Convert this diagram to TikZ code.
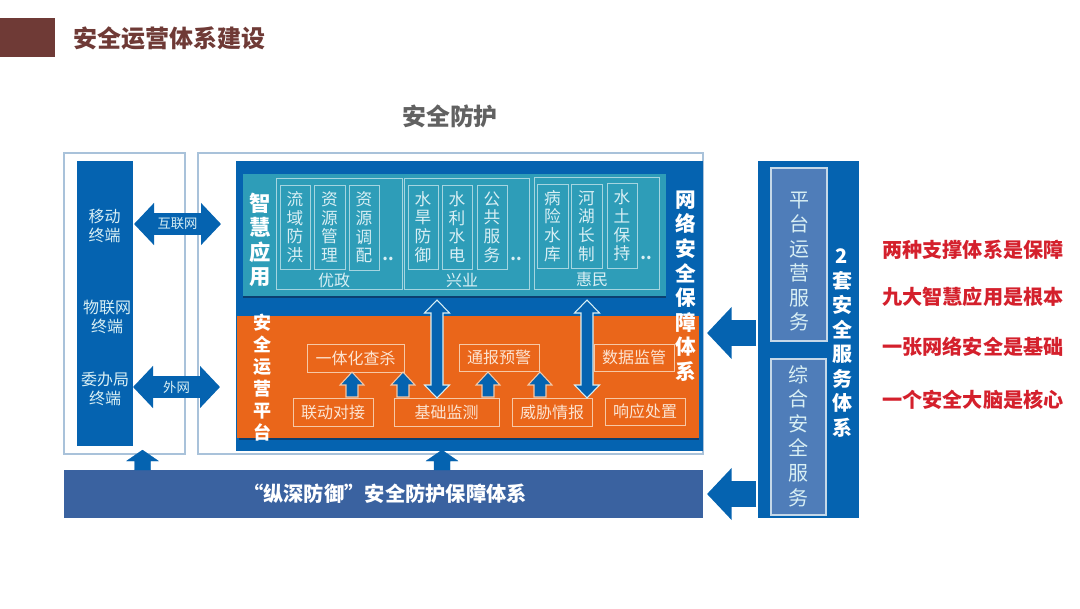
\documentclass[tikz,border=0pt]{standalone}
\usepackage{fontspec}
\setmainfont{Noto Sans CJK SC}
\usetikzlibrary{arrows.meta,calc}
\definecolor{mainblue}{HTML}{0563B0}
\definecolor{framec}{HTML}{A9C2DA}
\definecolor{tealc}{HTML}{2E9DB8}
\definecolor{tealb}{HTML}{A5D5E0}
\definecolor{tealt}{HTML}{D8EFF4}
\definecolor{orangec}{HTML}{EA661A}
\definecolor{orangeb}{HTML}{F6C8A6}
\definecolor{oranget}{HTML}{FCE4D2}
\definecolor{barc}{HTML}{3A62A0}
\definecolor{svcc}{HTML}{4F7DB9}
\definecolor{svcb}{HTML}{C5D8E8}
\definecolor{brown}{HTML}{6F3A36}
\definecolor{redt}{HTML}{D4202C}
\definecolor{shadowc}{HTML}{0B3F70}
% \bx{name}{x1}{y1}{x2}{y2}{style}{text}
\newcommand{\bx}[7]{%
  \pgfmathsetmacro{\bxw}{(#4-#2)*0.75}%
  \pgfmathsetmacro{\bxh}{(#5-#3)*0.75}%
  \node[rectangle,inner sep=0pt,outer sep=0pt,align=center,minimum width=\bxw pt,minimum height=\bxh pt,#6] (#1) at ({(#2+#4)/2},{(#3+#5)/2}) {#7};}
% \uparr{style}{tip}{tail}{half head}{head length}{half shaft}
\newcommand{\uparr}[6]{%
  \draw[#1] (#2) -- ++(#4,#5) -- ++({#6-#4},0) -- ($(#3)+(#6,0)$) -- (#3) -- ($(#3)+(-#6,0)$) -- ($(#2)+(-#6,#5)$) -- ++({#6-#4},0) -- cycle;}
% \dblarr{style}{top}{bottom}
\newcommand{\dblarr}[3]{%
  \draw[#1] (#2) -- ++(12.5,13) -- ++(-6.5,0) -- ($(#3)+(6,-13)$) -- ++(6.5,0) -- (#3) -- ++(-12.5,-13) -- ++(6.5,0) -- ($(#2)+(-6,13)$) -- ++(-6.5,0) -- cycle;}
\tikzset{
  x=0.75pt,y=-0.75pt,
  frame/.style={draw=framec,line width=0.9pt,fill=white},
  solidblue/.style={fill=mainblue},
  groupbox/.style={draw=tealb,line width=0.7pt},
  itembox/.style={draw=tealb,line width=0.7pt,text=tealt,font=\fontsize{12.5}{14}\selectfont},
  oranbox/.style={draw=orangeb,line width=0.7pt,text=oranget,font=\fontsize{12}{14}\selectfont},
  svcbox/.style={draw=svcb,line width=1pt,fill=svcc,text=tealt,font=\fontsize{15}{18.4}\selectfont},
  svctext/.style={text=tealt,align=center,inner sep=0pt,font=\fontsize{15}{18.4}\selectfont},
  boldlabel/.style={text=white,align=center,inner sep=0pt,font=\bfseries\fontsize{15}{18.4}\selectfont},
  termlabel/.style={text=tealt,align=center,inner sep=0pt,font=\fontsize{12}{14.4}\selectfont},
  grouplabel/.style={text=tealt,inner sep=0pt,font=\fontsize{12}{14}\selectfont},
  dotlabel/.style={text=tealt,inner sep=0pt,font=\bfseries\fontsize{12}{14}\selectfont},
  redlabel/.style={text=redt,inner sep=0pt,font=\bfseries\fontsize{15.1}{18}\selectfont},
  hdouble/.style={draw=mainblue,line width=16pt,{Triangle[length=15pt,width=30.75pt,fill=mainblue,color=mainblue]}-{Triangle[length=15pt,width=30.75pt,fill=mainblue,color=mainblue]}},
  leftblock/.style={draw=mainblue,line width=19pt,-{Triangle[length=18.5pt,width=38pt,fill=mainblue,color=mainblue]}},
  solidarrow/.style={fill=mainblue,draw=mainblue,line width=0.2pt},
  palearrow/.style={fill=mainblue,draw=orangeb,line width=0.8pt,line join=miter},
  dblarrow/.style={fill=mainblue,draw=tealt,line width=0.8pt,line join=miter},
}
\begin{document}
\begin{tikzpicture}
\useasboundingbox (0,0) rectangle (1080,608);
% header
\bx{banner}{0}{18}{55}{57}{fill=brown}{}
\node[anchor=west,inner sep=0pt,text=brown,font=\bfseries\fontsize{18}{20}\selectfont] (title) at (73,38) {安全运营体系建设};
\node[inner sep=0pt,text=black!62,font=\bfseries\fontsize{17.9}{20}\selectfont] (head) at (450,116) {安全防护};
% frames
\bx{lframe}{64}{153}{185}{454}{frame}{}
\bx{rframe}{198}{153}{703}{454}{frame}{}
% left column
\bx{col}{77}{161}{133}{446}{solidblue}{}
\node[termlabel] (t1) at (104.5,226) {移动\\终端};
\node[termlabel] (t2) at (107,317) {物联网\\终端};
\node[termlabel] (t3) at (105,389) {委办局\\终端};
% main blue
\bx{inner}{236}{161}{703}{451}{solidblue}{}
% teal
\bx{tealshadow}{243}{176}{666}{298}{fill=shadowc}{}
\bx{teal}{243}{174}{666}{296}{fill=tealc}{}
\node[boldlabel,font=\bfseries\fontsize{16}{18.4}\selectfont] (zh) at (260,240) {智\\慧\\应\\用};
\bx{g1}{276}{178}{402}{289}{groupbox}{}
\bx{g2}{404}{178}{529}{289}{groupbox}{}
\bx{g3}{534}{177}{659}{289}{groupbox}{}
\bx{a1}{280}{185}{310}{269}{itembox}{流\\域\\防\\洪}
\bx{a2}{314}{185}{345}{269}{itembox}{资\\源\\管\\理}
\bx{a3}{349}{185}{379}{270}{itembox}{资\\源\\调\\配}
\bx{b1}{408}{185}{438}{269}{itembox}{水\\旱\\防\\御}
\bx{b2}{442}{185}{472}{269}{itembox}{水\\利\\水\\电}
\bx{b3}{477}{185}{507}{269}{itembox}{公\\共\\服\\务}
\bx{c1}{537}{184}{568}{268}{itembox}{病\\险\\水\\库}
\bx{c2}{571}{184}{602}{268}{itembox}{河\\湖\\长\\制}
\bx{c3}{607}{183}{637}{268}{itembox}{水\\土\\保\\持}
\node[dotlabel] (d1) at (388,259) {..};
\node[dotlabel] (d2) at (516,259) {..};
\node[dotlabel] (d3) at (646,258) {..};
\node[grouplabel] (l1) at (334,280) {优政};
\node[grouplabel] (l2) at (462,280) {兴业};
\node[grouplabel] (l3) at (592,279) {惠民};
% orange
\bx{oranshadow}{239}{318}{699}{440}{fill=shadowc}{}
\bx{oran}{237}{316}{699}{438}{fill=orangec}{}
\node[boldlabel,font=\bfseries\fontsize{13.5}{16.5}\selectfont] (yy) at (262,378) {安\\全\\运\\营\\平\\台};
\bx{yt}{307}{344}{404}{372}{oranbox}{一体化查杀}
\bx{tb}{459}{344}{539}{371}{oranbox}{通报预警}
\bx{sj}{594}{344}{674}{371}{oranbox}{数据监管}
\bx{ld}{293}{398}{373}{426}{oranbox}{联动对接}
\bx{jc}{394}{398}{499}{426}{oranbox}{基础监测}
\bx{wx}{512}{398}{592}{426}{oranbox}{威胁情报}
\bx{xy}{605}{398}{685}{425}{oranbox}{响应处置}
\node[boldlabel,font=\bfseries\fontsize{15.5}{18.4}\selectfont] (wl) at (685.5,286) {网\\络\\安\\全\\保\\障\\体\\系};
% arrows inside orange
\coordinate (u1s) at (352,397); \coordinate (u1e) at (352,372);
\coordinate (u2s) at (403,397); \coordinate (u2e) at (403,372);
\coordinate (u3s) at (488,397); \coordinate (u3e) at (488,372);
\coordinate (u4s) at (540,397); \coordinate (u4e) at (540,372);
\uparr{palearrow}{u1e}{u1s}{12}{13}{6}
\uparr{palearrow}{u2e}{u2s}{12}{13}{6}
\uparr{palearrow}{u3e}{u3s}{12}{13}{6}
\uparr{palearrow}{u4e}{u4s}{12}{13}{6}
\coordinate (v1t) at (437,300); \coordinate (v1b) at (437,398);
\coordinate (v2t) at (587,300); \coordinate (v2b) at (587,398);
\dblarr{dblarrow}{v1t}{v1b}
\dblarr{dblarrow}{v2t}{v2b}
% bottom bar
\bx{bar}{64}{470}{703}{518}{fill=barc}{}
\node[inner sep=0pt,text=white,font=\bfseries\fontsize{15.2}{17}\selectfont] (bart) at (385,494) {“纵深防御”安全防护保障体系};
% right panel
\bx{svc}{758}{161}{859}{518}{solidblue}{}
\bx{s1}{771}{168}{827}{341}{svcbox}{}
\node[svctext] (s1t) at (799,261.5) {平\\台\\运\\营\\服\\务};
\bx{s2}{771}{359}{826}{515}{svcbox}{}
\node[svctext] (s2t) at (798.5,436) {综\\合\\安\\全\\服\\务};
\node[boldlabel] (tt) at (842,343) {2\\套\\安\\全\\服\\务\\体\\系};
% block arrows
\coordinate (h1l) at (134,224); \coordinate (h1r) at (221,224);
\coordinate (h2l) at (133,387); \coordinate (h2r) at (220,387);
\draw[hdouble] (h1l) -- (h1r) node[midway,text=tealt,inner sep=0pt,font=\fontsize{10}{12}\selectfont] (nh1) {互联网};
\draw[hdouble] (h2l) -- (h2r) node[midway,text=tealt,inner sep=0pt,font=\fontsize{10}{12}\selectfont] (nh2) {外网};
\coordinate (b1s) at (142.5,470); \coordinate (b1e) at (142.5,450);
\coordinate (b2s) at (442,470); \coordinate (b2e) at (442,450);
\uparr{solidarrow}{b1e}{b1s}{16}{11}{8}
\uparr{solidarrow}{b2e}{b2s}{16}{11}{8}
\coordinate (l1s) at (756,333); \coordinate (l1e) at (707,333);
\coordinate (l2s) at (756,494); \coordinate (l2e) at (707,494);
\draw[leftblock] (l1s) -- (l1e);
\draw[leftblock] (l2s) -- (l2e);
% red labels
\node[redlabel] (r1) at (973,250) {两种支撑体系是保障};
\node[redlabel] (r2) at (973,297) {九大智慧应用是根本};
\node[redlabel] (r3) at (973,347) {一张网络安全是基础};
\node[redlabel] (r4) at (973,400) {一个安全大脑是核心};
\end{tikzpicture}
\end{document}
